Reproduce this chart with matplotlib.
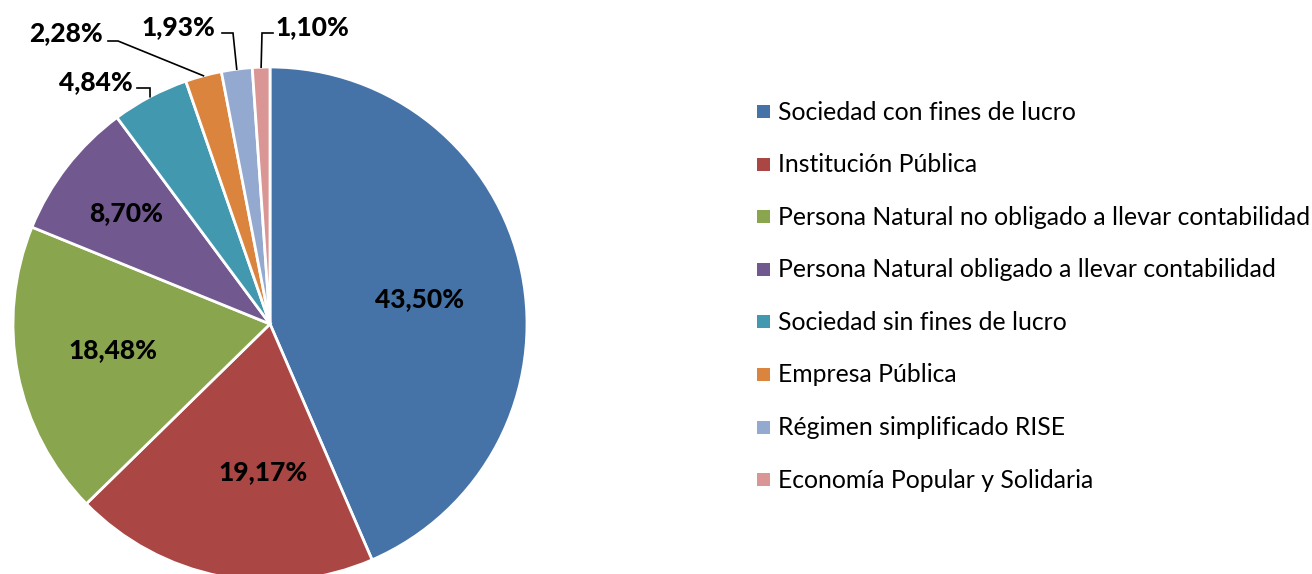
import matplotlib
matplotlib.use("Agg")
import matplotlib.pyplot as plt
import numpy as np

# ── data ──────────────────────────────────────────────────────────────────────
categories = [
    "Sociedad con fines de lucro",
    "Institución Pública",
    "Persona Natural no obligado a llevar contabilidad",
    "Persona Natural obligado a llevar contabilidad",
    "Sociedad sin fines de lucro",
    "Empresa Pública",
    "Régimen simplificado RISE",
    "Economía Popular y Solidaria",
]
shares = [43.50, 19.17, 18.48, 8.70, 4.84, 2.28, 1.93, 1.10]
colors = ["#4572A7", "#AA4643", "#89A54E", "#71588F",
          "#4198AF", "#DB843D", "#93A9CF", "#D99694"]

W, H = 1312, 574
fig = plt.figure(figsize=(W / 100, H / 100), dpi=100)
fig.patch.set_facecolor("white")

# pie centre (270, 324) px, radius 257 px
cx, cy, r = 270, 324, 257
ax = fig.add_axes([(cx - r) / W, (H - cy - r) / H, 2 * r / W, 2 * r / H])

wedges, _ = ax.pie(shares, colors=colors, startangle=90, counterclock=False,
                   radius=1, wedgeprops=dict(edgecolor="white", linewidth=2),
                   frame=False)
ax.set_xlim(-1, 1)
ax.set_ylim(-1, 1)
ax.axis("off")
for w in wedges:
    w.set_clip_on(False)

def fmt(v):
    return f"{v:.2f}%".replace(".", ",")

def px(x, y):
    return (x - cx) / r, (cy - y) / r

FONT = "Lato"
LBL = dict(ha="center", va="center", fontsize=19, fontweight="black",
           family=FONT, color="black")

# inside labels
inside = {0: (420, 299), 1: (263, 472), 2: (113, 350), 3: (126, 213)}
for i, (x, y) in inside.items():
    ax.text(*px(x, y), fmt(shares[i]), **LBL)

# outside labels with leader lines: text pos, line start, elbow
outside = {
    4: ((96, 82), (137, 88), (150, 88)),
    5: ((66, 33), (108, 41), (118, 41)),
    6: ((178, 27), (222, 33), (233, 33)),
    7: ((312, 27), (273, 33), (262, 33)),
}
for i, ((tx, ty), (sx, sy), (bx, by)) in outside.items():
    w = wedges[i]
    mid = np.deg2rad((w.theta1 + w.theta2) / 2)
    ex, ey = np.cos(mid), np.sin(mid)
    x0, y0 = px(sx, sy)
    x1, y1 = px(bx, by)
    ax.plot([x0, x1, ex], [y0, y1, ey], color="black", lw=1.2,
            clip_on=False, solid_joinstyle="miter")
    ax.text(*px(tx, ty), fmt(shares[i]), **LBL)

# legend
leg_y0, leg_dy = 112, 52.6
for k, (lab, col) in enumerate(zip(categories, colors)):
    y = 1 - (leg_y0 + k * leg_dy) / H
    fig.patches.append(plt.Rectangle((757 / W, y - 6 / H), 13 / W, 13 / H,
                                     transform=fig.transFigure, facecolor=col,
                                     edgecolor="none"))
    fig.text(778 / W, y, lab, ha="left", va="center", fontsize=17.8,
             family=FONT, color="black")

fig.savefig("out.png", dpi=100, facecolor="white")
